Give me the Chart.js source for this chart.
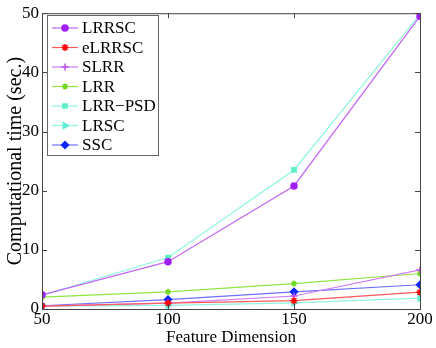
<!DOCTYPE html>
<html>
<head>
<meta charset="utf-8">
<script src="https://cdn.jsdelivr.net/npm/chart.js@4"></script>
<style>
  html, body { margin: 0; padding: 0; background: #fff; }
  #myChart { display: block; }
</style>
</head>
<body>
<canvas id="myChart" width="436" height="348"></canvas>
<script>
// feature dimensions on the x axis
const dims = [50, 100, 150, 200];
const xTicks = [50, 100, 150, 200];
const yTicks = [0, 10, 20, 30, 40, 50];

// computational time (sec.) per method
const lrrsc  = [2.4, 8.0, 20.8, 49.5];
const elrrsc = [0.5, 1.0, 1.4, 2.85];
const slrr   = [0.5, 1.0, 2.2, 6.6];
const lrr    = [2.0, 2.9, 4.3, 6.0];
const lrrpsd = [2.3, 8.7, 23.5, 49.8];
const lrsc   = [0.5, 0.6, 1.05, 1.85];
const ssc    = [0.55, 1.6, 2.9, 4.1];

function pts(vals) {
    return vals.map((v, i) => ({ x: dims[i], y: v }));
}

function series(label, vals, line, fill, style, size, rot) {
    return {
        label: label,
        data: pts(vals),
        borderColor: line,
        backgroundColor: fill,
        pointBorderColor: fill,
        pointBackgroundColor: fill,
        pointStyle: style,
        pointRadius: size,
        pointBorderWidth: 1.5,
        pointRotation: rot || 0,
        borderWidth: 1.2,
        tension: 0
    };
}

const datasets = [
    series('LRRSC', lrrsc, '#c266f5', '#a020f0', 'circle', 3),
    series('eLRRSC', elrrsc, '#ff5a5a', '#ff0000', 'star', 3.5),
    series('SLRR', slrr, '#cf7af7', '#c050f0', 'cross', 3.5),
    series('LRR', lrr, '#8fe640', '#70d820', 'star', 3),
    series('LRR\u2212PSD', lrrpsd, '#8ff5e0', '#60f0c8', 'rect', 3),
    series('LRSC', lrsc, '#8ff5e0', '#60f0d8', 'triangle', 3.5, 90),
    series('SSC', ssc, '#6f70ff', '#0a28ff', 'rectRot', 3.5)
];

const FONT = '"Liberation Serif", "DejaVu Serif", serif';

// box around the plot with inward ticks (matlab look) plus the legend
const boxPlugin = {
    id: 'box',
    afterDraw(chart) {
        const c = chart.ctx;
        const a = chart.chartArea;
        const xs = chart.scales.x, ys = chart.scales.y;
        c.save();
        c.strokeStyle = '#444';
        c.lineWidth = 1;
        c.strokeRect(a.left + 0.5, a.top + 0.5, a.right - a.left, a.bottom - a.top);
        const t = 5;
        xTicks.forEach(v => {
            const px = Math.round(xs.getPixelForValue(v)) + 0.5;
            c.beginPath();
            c.moveTo(px, a.bottom); c.lineTo(px, a.bottom - t);
            c.moveTo(px, a.top); c.lineTo(px, a.top + t);
            c.stroke();
        });
        yTicks.forEach(v => {
            const py = Math.round(ys.getPixelForValue(v)) + 0.5;
            c.beginPath();
            c.moveTo(a.left, py); c.lineTo(a.left + t, py);
            c.moveTo(a.right, py); c.lineTo(a.right - t, py);
            c.stroke();
        });

        // legend
        const lx = 47, ly = 15, lw = 111, lh = 140;
        c.fillStyle = '#fff';
        c.fillRect(lx, ly, lw, lh);
        c.strokeStyle = '#666';
        c.strokeRect(lx + 0.5, ly + 0.5, lw, lh);
        c.font = '17px ' + FONT;
        c.textBaseline = 'middle';
        chart.data.datasets.forEach((ds, i) => {
            const y = ly + 13 + i * 19.5;
            c.strokeStyle = ds.borderColor;
            c.lineWidth = 1.2;
            c.beginPath();
            c.moveTo(52, y); c.lineTo(78, y);
            c.stroke();
            c.fillStyle = ds.pointBackgroundColor;
            c.strokeStyle = ds.pointBorderColor;
            c.lineWidth = 1.5;
            Chart.helpers.drawPoint(c, {
                pointStyle: ds.pointStyle,
                radius: ds.pointRadius,
                rotation: ds.pointRotation,
                borderWidth: 1.5
            }, 65, y);
            c.fillStyle = '#000';
            c.fillText(ds.label, 82, y + 1);
        });
        c.restore();
    }
};

const ctx = document.getElementById('myChart').getContext('2d');
new Chart(ctx, {
    type: 'line',
    data: { datasets: datasets },
    plugins: [boxPlugin],
    options: {
        responsive: false,
        animation: false,
        layout: { padding: { top: 12, right: 16, left: 0, bottom: 0 } },
        plugins: {
            legend: { display: false },
            tooltip: { enabled: false }
        },
        scales: {
            x: {
                type: 'linear',
                min: 50, max: 200,
                afterBuildTicks: s => { s.ticks = xTicks.map(v => ({ value: v })); },
                afterFit: s => { s.height = 39; },
                grid: { display: false, drawTicks: false },
                border: { display: false },
                ticks: { color: '#000', font: { family: FONT, size: 17 }, padding: 0, maxRotation: 0 },
                title: { display: true, text: 'Feature Dimension', color: '#000',
                         font: { family: FONT, size: 17 }, padding: { top: -6, bottom: 0 } }
            },
            y: {
                min: 0, max: 50,
                afterBuildTicks: s => { s.ticks = yTicks.map(v => ({ value: v })); },
                afterFit: s => { s.width = 42; },
                grid: { display: false, drawTicks: false },
                border: { display: false },
                ticks: { color: '#000', font: { family: FONT, size: 17 }, padding: 3 },
                title: { display: true, text: 'Computational time (sec.)', color: '#000',
                         font: { family: FONT, size: 20 }, padding: { top: 4, bottom: 0 } }
            }
        }
    }
});
</script>
</body>
</html>
